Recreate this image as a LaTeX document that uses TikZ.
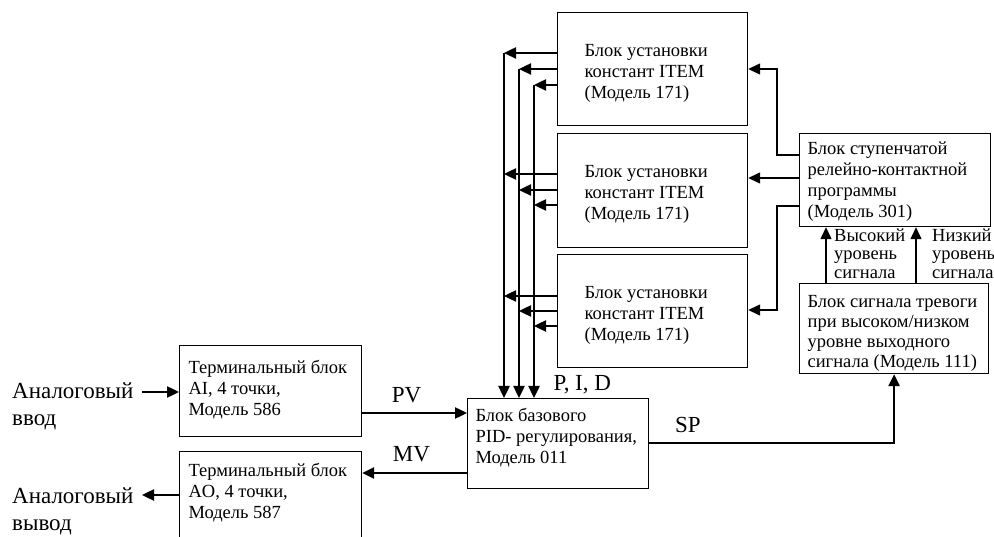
\documentclass[tikz,border=0pt]{standalone}
\usepackage{fontspec}
\setmainfont{Liberation Serif}
\usetikzlibrary{arrows.meta}
\newcommand{\bt}[5]{\parbox[c][#1][t]{#2}{\leftskip=#3\relax\rule{0pt}{#4}#5}}
\newcommand{\lt}[2]{\parbox[t]{#1}{#2}}
\begin{document}
\begin{tikzpicture}[x=1pt,y=-1pt,
  box/.style={draw, line width=1.2pt, inner sep=0pt, anchor=north west, font=\fontsize{18.5}{21}\selectfont},
  lab/.style={inner sep=0pt, anchor=base west, font=\fontsize{23}{27}\selectfont},
  slab/.style={inner sep=0pt, anchor=base west, font=\fontsize{18.5}{18.5}\selectfont},
  thk/.style={line width=2.4pt, -{Triangle[length=12pt,width=11pt]}},
  thn/.style={line width=1.3pt, -{Triangle[length=12pt,width=11pt]}}]
\useasboundingbox (0,0) rectangle (994,537);

% boxes
\node[box] (item1) at (557,12) {\bt{113pt}{190pt}{27pt}{43.5pt}{Блок установки\\констант ITEM\\(Модель 171)}};
\node[box] (item2) at (557,133) {\bt{114pt}{190pt}{27pt}{43.5pt}{Блок установки\\констант ITEM\\(Модель 171)}};
\node[box] (item3) at (557,254) {\bt{113pt}{190pt}{27pt}{43.5pt}{Блок установки\\констант ITEM\\(Модель 171)}};
\node[box] (step) at (799,133) {\bt{93pt}{191pt}{8pt}{21pt}{Блок ступенчатой\\релейно-контактной\\программы\\(Модель 301)}};
\node[box] (alarm) at (799,283) {\bt{90pt}{189pt}{8pt}{23.7pt}{\baselineskip=20pt Блок сигнала тревоги\\при высоком/низком\\уровне выходного\\сигнала (Модель 111)}};
\node[box] (ai) at (179,345) {\bt{91pt}{182pt}{9pt}{28.3pt}{Терминальный блок\\AI, 4 точки,\\Модель 586}};
\node[box] (ao) at (179,451) {\bt{95pt}{182pt}{9pt}{25pt}{Терминальный блок\\AO, 4 точки,\\Модель 587}};
\node[box] (pid) at (467,398) {\bt{90pt}{181pt}{8pt}{22.7pt}{Блок базового\\PID- регулирования,\\Модель 011}};

% labels
\node[lab] (ain) at (12,398.3) {\lt{140pt}{Аналоговый\\ввод}};
\node[lab] (aout) at (12,503.3) {\lt{140pt}{Аналоговый\\вывод}};
\node[lab] (pvl) at (391.7,402.7) {PV};
\node[lab] (mvl) at (392.7,461.7) {MV};
\node[lab] (spl) at (675,432.3) {SP};
\node[lab] (pidl) at (553.3,390.7) {P, I, D};
\node[slab] (hil) at (834,241.5) {\lt{80pt}{Высокий\\уровень\\сигнала}};
\node[slab] (lol) at (932,241.5) {\lt{80pt}{Низкий\\уровень\\сигнала}};

% coordinates
\coordinate (a11) at (504,53);  \coordinate (a12) at (519,69);  \coordinate (a13) at (534,85);
\coordinate (a21) at (504,174); \coordinate (a22) at (519,190); \coordinate (a23) at (534,205);
\coordinate (a31) at (504,296); \coordinate (a32) at (519,311); \coordinate (a33) at (534,326);
\coordinate (inc) at (142,392);
\coordinate (outc) at (142,495);
\coordinate (pvc) at (0,413);
\coordinate (mvc) at (0,473);
\coordinate (spc) at (0,443);
\coordinate (k1) at (777,69);  \coordinate (k1b) at (777,155);
\coordinate (k2) at (0,178);
\coordinate (k3) at (777,310); \coordinate (k3b) at (777,206);
\coordinate (h1) at (826,0);
\coordinate (h2) at (916,0);

% PID parameter connectors
\foreach \b in {1,2,3}{
  \foreach \j in {1,2,3}{
    \draw[thk] (a\b\j -| item\b.west) -- (a\b\j);
  }
}
\draw[thk] (a11) -- (a11 |- pid.north);
\draw[thk] (a12) -- (a12 |- pid.north);
\draw[thk] (a13) -- (a13 |- pid.north);

% main signal path
\draw[thk] (inc) -- (inc -| ai.west);
\draw[thk] (pvc -| ai.east) -- (pvc -| pid.west);
\draw[thk] (mvc -| pid.west) -- (mvc -| ao.east);
\draw[thk] (outc -| ao.west) -- (outc);
\draw[thk] (spc -| pid.east) -| (alarm.south);

% step program connectors
\draw[thn] (k1b -| step.west) -| (k1) -- (k1 -| item1.east);
\draw[thn] (k2 -| step.west) -- (k2 -| item2.east);
\draw[thn] (k3b -| step.west) -| (k3) -- (k3 -| item3.east);
\draw[thn] (h1 |- alarm.north) -- (h1 |- step.south);
\draw[thn] (h2 |- alarm.north) -- (h2 |- step.south);
\end{tikzpicture}
\end{document}
